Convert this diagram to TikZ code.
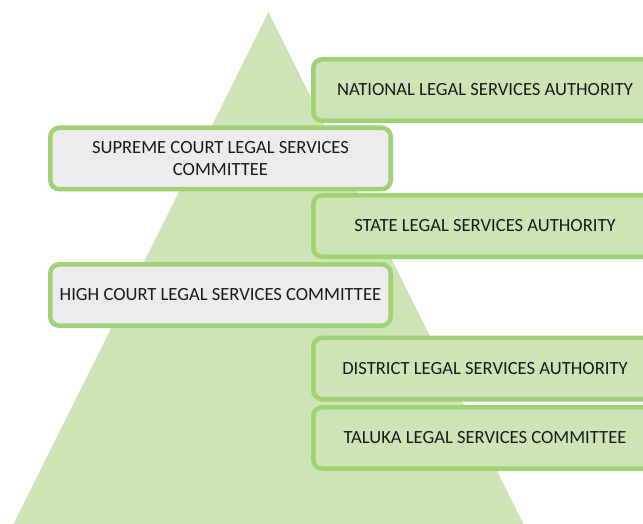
\documentclass[tikz,border=0pt]{standalone}
\usepackage{fontspec}
\setmainfont{Carlito}
\definecolor{pyrgreen}{HTML}{CFE4B6}
\definecolor{edgegreen}{HTML}{A1D176}
\definecolor{boxgray}{HTML}{ECECEE}
\definecolor{txt}{HTML}{1A1A1A}
\tikzset{
  level/.style={draw=edgegreen, line width=4.6pt, rounded corners=9pt,
    minimum height=61.4pt, inner sep=0pt, text=txt, align=center,
    font=\fontsize{18.6}{22}\selectfont},
  authority/.style={level, fill=pyrgreen, minimum width=343.4pt},
  committee/.style={level, fill=boxgray, minimum width=340.4pt}
}
\begin{document}
\begin{tikzpicture}[x=1pt,y=-1pt]
\useasboundingbox (0,0) rectangle (643,524);
\clip (0,0) rectangle (643,524);
%Drawing pyramid
\fill[pyrgreen] (268.5,12) -- (13,525) -- (524,525) -- cycle;
%Drawing boxes
\node[authority] (nalsa) at (485,90) {NATIONAL LEGAL SERVICES AUTHORITY};
\node[committee] (sclsc) at (220.5,158.5) {SUPREME COURT LEGAL SERVICES\\COMMITTEE};
\node[authority] (slsa) at (485,226) {STATE LEGAL SERVICES AUTHORITY};
\node[committee] (hclsc) at (220.5,295) {HIGH COURT LEGAL SERVICES COMMITTEE};
\node[authority] (dlsa) at (485,368.5) {DISTRICT LEGAL SERVICES AUTHORITY};
\node[authority] (tlsc) at (485,438) {TALUKA LEGAL SERVICES COMMITTEE};
\end{tikzpicture}
\end{document}
